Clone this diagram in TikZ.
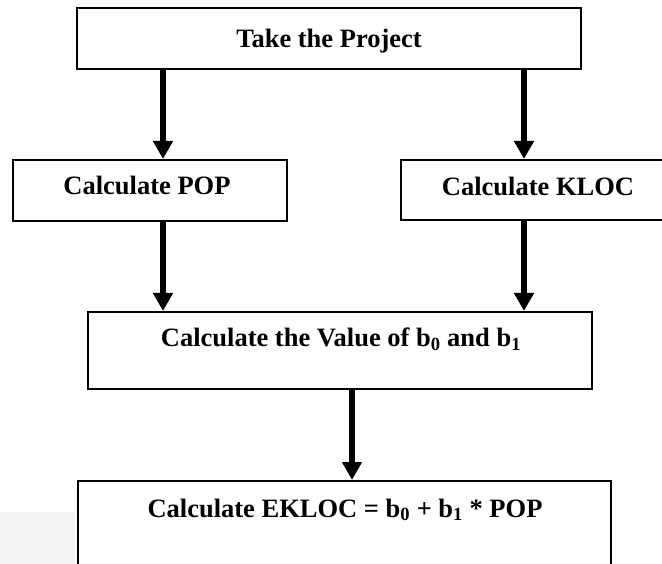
\documentclass[tikz,border=0pt]{standalone}
\usepackage{fontspec}
\setmainfont{Liberation Serif}
\usetikzlibrary{arrows.meta}
\begin{document}
\begin{tikzpicture}[x=1pt,y=-1pt,
  box/.style={draw=black,line width=2pt,fill=white,inner sep=0pt},
  lbl/.style={anchor=base,inner sep=0pt,font=\fontsize{26.5}{30}\selectfont\bfseries},
  arr/.style={line width=5.5pt,-{Triangle[width=19pt,length=18pt]}}]
\useasboundingbox (0,0) rectangle (662,564);
\clip (0,0) rectangle (662,564);
\fill[black!4] (0,512) rectangle (75,564);
% boxes
\node[box, minimum width=504pt, minimum height=61pt] (b1) at (329,38.5) {};
\node[box, minimum width=274pt, minimum height=61pt] (b2) at (150,190.5) {};
\node[box, minimum width=274pt, minimum height=60pt] (b3) at (538,190) {};
\node[box, minimum width=504pt, minimum height=77pt] (b4) at (340,350.5) {};
\node[box, minimum width=533pt, minimum height=140pt] (b5) at (344.5,551) {};
% texts
\node[lbl] (t1) at (329,47.5) {Take the Project};
\node[lbl] (t2) at (147,195) {Calculate POP};
\node[lbl] (t3) at (538,196) {Calculate KLOC};
\node[lbl] (t4) at (341,347) {Calculate the Value of b\textsubscript{0} and b\textsubscript{1}};
\node[lbl] (t5) at (345,517) {Calculate EKLOC = b\textsubscript{0} + b\textsubscript{1} * POP};
% arrow columns
\coordinate (xl) at (163,0);
\coordinate (xr) at (524,0);
\coordinate (xm) at (352,0);
\draw[arr] (xl |- b1.south) -- (xl |- b2.north);
\draw[arr] (xr |- b1.south) -- (xr |- b3.north);
\draw[arr] (xl |- b2.south) -- (xl |- b4.north);
\draw[arr] (xr |- b3.south) -- (xr |- b4.north);
\draw[arr] (xm |- b4.south) -- (xm |- b5.north);
\end{tikzpicture}
\end{document}
